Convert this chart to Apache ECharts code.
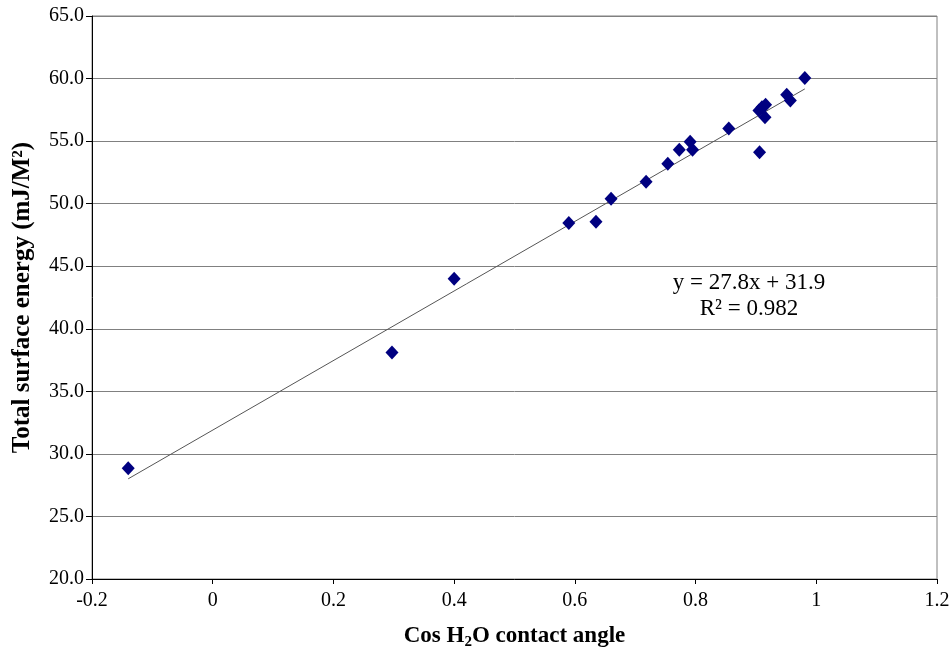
<!DOCTYPE html>
<html>
<head>
<meta charset="utf-8">
<script src="https://cdn.jsdelivr.net/npm/echarts@6/dist/echarts.min.js"></script>
<style>
  html, body { margin: 0; padding: 0; background: #fff; }
  #chart { width: 950px; height: 647px; }
</style>
</head>
<body>
<div id="chart"></div>
<script>
// 数据：cos(水接触角) 与总表面能
const cosAngle = [-0.140, 0.297, 0.400, 0.590, 0.635, 0.660, 0.718, 0.754, 0.773, 0.791,
                  0.795, 0.855, 0.906, 0.905, 0.910, 0.916, 0.915, 0.951, 0.957, 0.981];
const surfaceEnergy = [28.85, 38.1, 44.0, 48.45, 48.55, 50.4, 51.75, 53.2, 54.3, 54.95,
                       54.3, 56.0, 54.1, 57.45, 57.7, 57.9, 56.9, 58.7, 58.25, 60.05];
const slope = 27.8;
const intercept = 31.9;
const r2Text = '0.982';

const points = cosAngle.map((x, i) => [x, surfaceEnergy[i]]);
const xMin = Math.min(...cosAngle);
const xMax = Math.max(...cosAngle);
const trend = [[xMin, slope * xMin + intercept], [xMax, slope * xMax + intercept]];

const serif = '"Liberation Serif", "Times New Roman", serif';

const chart = echarts.init(document.getElementById('chart'));
chart.setOption({
    animation: false,
    grid: {
        left: 92, right: 13, top: 16, bottom: 68,
        outerBoundsMode: 'none',
        containLabel: false,
        show: true, borderColor: '#808080', borderWidth: 1
    },
    xAxis: {
        type: 'value',
        min: -0.2, max: 1.2, interval: 0.2,
        axisLine: { show: true, onZero: false, lineStyle: { color: '#000' } },
        axisTick: { show: true, length: 5, lineStyle: { color: '#000' } },
        splitLine: { show: false },
        axisLabel: {
            color: '#000', fontFamily: serif, fontSize: 20, margin: 12,
            formatter: v => {
                const r = Math.round(v * 10) / 10;
                return r === 0 ? '0' : String(r);
            }
        },
        name: '{b|Cos H}{s|2}{b|O contact angle}',
        nameLocation: 'middle',
        nameGap: 44,
        nameTextStyle: {
            rich: {
                b: { fontFamily: serif, fontSize: 23, fontWeight: 'bold', color: '#000' },
                s: { fontFamily: serif, fontSize: 15, fontWeight: 'bold', color: '#000', padding: [12, 0, 0, 0] }
            }
        }
    },
    yAxis: {
        type: 'value',
        min: 20, max: 65, interval: 5,
        axisLine: { show: true, onZero: false, lineStyle: { color: '#000' } },
        axisTick: { show: true, length: 6, lineStyle: { color: '#000' } },
        splitLine: { show: true, lineStyle: { color: '#808080', width: 1 } },
        axisLabel: {
            color: '#000', fontFamily: serif, fontSize: 20, margin: 8,
            formatter: v => v.toFixed(1)
        },
        name: 'Total surface energy (mJ/M²)',
        nameLocation: 'middle',
        nameGap: 57,
        nameTextStyle: { fontFamily: serif, fontSize: 25, fontWeight: 'bold', color: '#000' }
    },
    series: [
        {
            type: 'line',
            data: trend,
            symbol: 'none',
            lineStyle: { color: '#555', width: 1 },
            silent: true,
            z: 1
        },
        {
            type: 'scatter',
            data: points,
            symbol: 'diamond',
            symbolSize: [13, 14],
            itemStyle: { color: '#000080', opacity: 1 },
            z: 2
        }
    ],
    graphic: [{
        type: 'text',
        x: 749, y: 270,
        style: {
            text: 'y = ' + slope + 'x + ' + intercept + '\nR² = ' + r2Text,
            fontFamily: serif, fontSize: 23, fill: '#000',
            align: 'center', lineHeight: 26
        }
    }]
});
</script>
</body>
</html>
